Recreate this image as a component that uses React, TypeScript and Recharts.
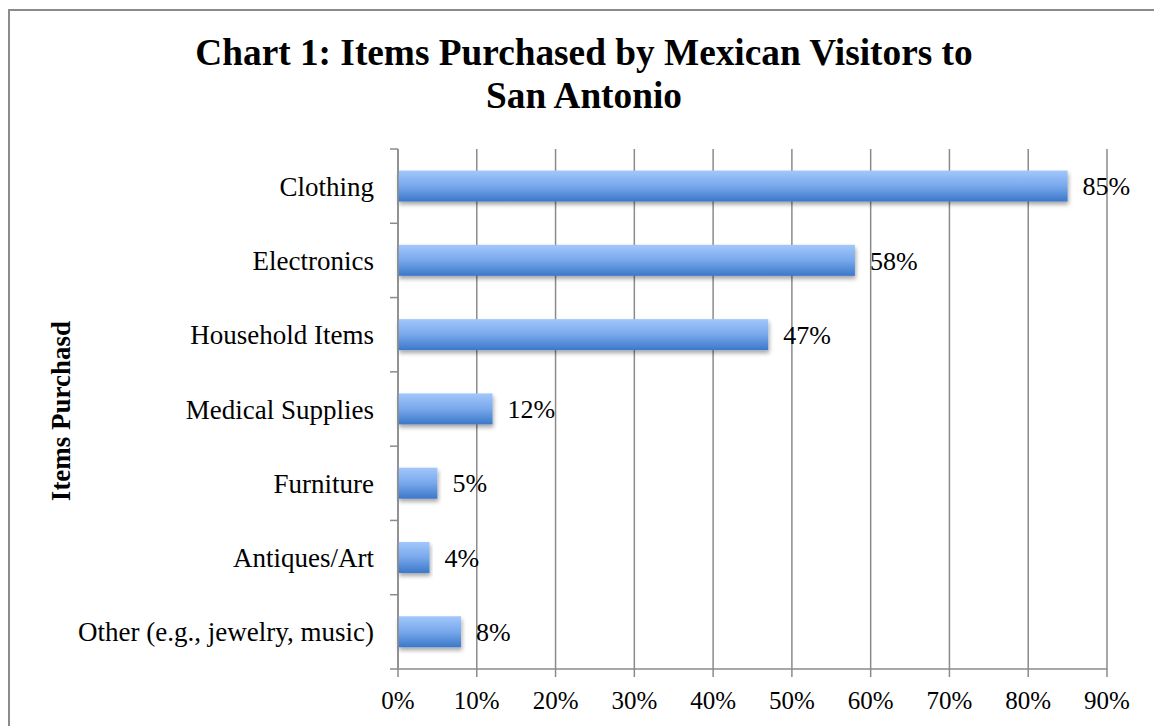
import React from "react";
import {
  BarChart,
  Bar,
  XAxis,
  YAxis,
  CartesianGrid,
  LabelList,
} from "recharts";

const categories = [
  "Clothing",
  "Electronics",
  "Household Items",
  "Medical Supplies",
  "Furniture",
  "Antiques/Art",
  "Other (e.g., jewelry, music)",
];
const shares = [85, 58, 47, 12, 5, 4, 8];
const xTicks = [0, 10, 20, 30, 40, 50, 60, 70, 80, 90];

const data = categories.map((name, i) => ({ name, value: shares[i] }));

const FONT = "'Liberation Serif', 'Times New Roman', Times, serif";
const GRID = "#8b8b8b";

const CategoryTick = (props: any) => {
  const { x, y, payload, index } = props;
  const half = payload && payload.offset ? payload.offset : 0;
  const axisX = x + 24;
  return (
    <g>
      <line x1={axisX - 8} x2={axisX} y1={y - half} y2={y - half} stroke={GRID} strokeWidth={1.5} />
      {index === categories.length - 1 && (
        <line x1={axisX - 8} x2={axisX} y1={y + half} y2={y + half} stroke={GRID} strokeWidth={1.5} />
      )}
      <text x={x} y={y} dy="0.355em" textAnchor="end" fontSize={27} fill="#000" fontFamily={FONT}>
        {payload.value}
      </text>
    </g>
  );
};

const ShadowBar = (props: any) => {
  const { x, y, width, height } = props;
  return (
    <rect x={x} y={y} width={width} height={height} fill="url(#barFill)" filter="url(#barShadow)" />
  );
};

const App = () => {
  return (
    <div style={{ position: "relative", width: 1154, height: 726, overflow: "hidden", fontFamily: FONT }}>
      <style>{`body{margin:0;overflow:hidden;background:#fff}`}</style>
      <div
        style={{
          position: "absolute",
          left: 8,
          top: 9,
          width: 1300,
          height: 900,
          border: "2px solid #8b8b8b",
          boxSizing: "border-box",
        }}
      />
      <div
        style={{
          position: "absolute",
          left: 0,
          top: 31,
          width: 1168,
          textAlign: "center",
          fontSize: 37.3,
          lineHeight: "43px",
          fontWeight: "bold",
          color: "#000",
        }}
      >
        Chart 1: Items Purchased by Mexican Visitors to
        <br />
        San Antonio
      </div>
      <svg style={{ position: "absolute", left: 0, top: 0 }} width={120} height={726}>
        <text
          x={70}
          y={411}
          transform="rotate(-90, 70, 411)"
          textAnchor="middle"
          fontSize={27}
          fontWeight="bold"
          fontFamily={FONT}
          fill="#000"
        >
          Items Purchasd
        </text>
      </svg>
      <div style={{ position: "absolute", left: 0, top: 0 }}>
        <BarChart
          width={1154}
          height={726}
          data={data}
          layout="vertical"
          margin={{ top: 149, right: 47, bottom: 0, left: 0 }}
          barCategoryGap="29%"
        >
          <defs>
            <linearGradient id="barFill" x1="0" y1="0" x2="0" y2="1">
              <stop offset="0%" stopColor="#a2c7fb" />
              <stop offset="50%" stopColor="#78a8ec" />
              <stop offset="100%" stopColor="#3b78c9" />
            </linearGradient>
            <filter id="barShadow" x="-5%" y="-20%" width="115%" height="160%">
              <feDropShadow dx="1" dy="3" stdDeviation="2" floodColor="#000" floodOpacity="0.35" />
            </filter>
          </defs>
          <CartesianGrid horizontal={false} stroke={GRID} strokeWidth={1.5} />
          <XAxis
            type="number"
            domain={[0, 90]}
            ticks={xTicks}
            interval={0}
            height={57}
            tickFormatter={(v: number) => `${v}%`}
            tickSize={8}
            tickMargin={14}
            axisLine={{ stroke: GRID, strokeWidth: 1.5 }}
            tickLine={{ stroke: GRID, strokeWidth: 1.5 }}
            tick={{ fontSize: 25, fill: "#000", fontFamily: FONT }}
          />
          <YAxis
            type="category"
            dataKey="name"
            width={398}
            interval={0}
            tickLine={false}
            tickSize={8}
            tickMargin={16}
            axisLine={{ stroke: GRID, strokeWidth: 1.5 }}
            tick={<CategoryTick />}
          />
          <Bar dataKey="value" shape={<ShadowBar />} isAnimationActive={false}>
            <LabelList
              dataKey="value"
              position="right"
              offset={15}
              formatter={(v: any) => `${v}%`}
              fill="#000"
              fontSize={26}
              fontFamily={FONT}
            />
          </Bar>
        </BarChart>
      </div>
    </div>
  );
};

export default App;
